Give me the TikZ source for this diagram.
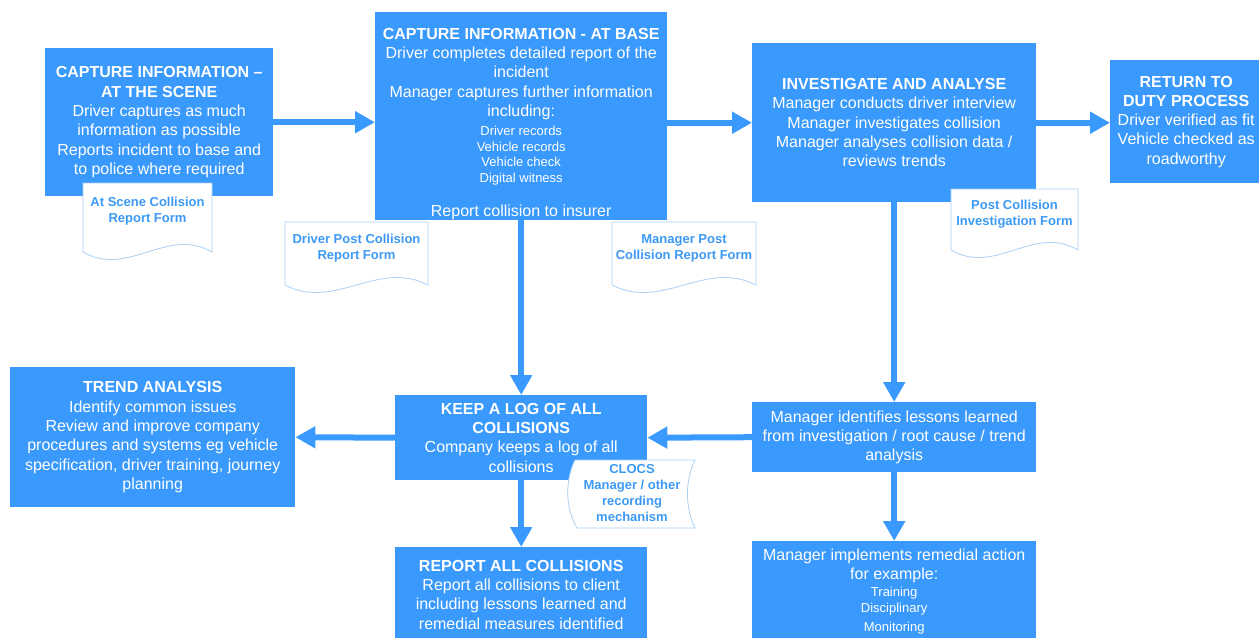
\documentclass[tikz,border=0pt]{standalone}
\usepackage{fontspec}
\setmainfont{Liberation Sans}
\usepackage{tikz}
\usetikzlibrary{arrows.meta,positioning,calc}
\definecolor{boxblue}{HTML}{3A99FD}
\definecolor{docline}{HTML}{A9D1F7}
\definecolor{doctext}{HTML}{3D9AF4}
\newcommand{\sm}[1]{{\fontsize{13}{15.5}\selectfont #1}}
% form sheet with a wavy lower edge: x, y, width, height
\newcommand{\formsheet}[4]{%
  \draw[sheet] (#1,#2) -- ({#1+#3},#2) -- ({#1+#3},{#2+#4-8})
    .. controls ({#1+0.65*#3},{#2+#4-34}) and ({#1+0.35*#3},{#2+#4+18}) .. (#1,{#2+#4-8}) -- cycle;}
\tikzset{
  box/.style={fill=boxblue, text=white, align=center, inner sep=0pt, anchor=north west,
    font=\fontsize{16}{19.3}\selectfont},
  sheet/.style={fill=white, draw=docline, line width=0.8pt},
  sheettxt/.style={text=doctext, align=center, inner sep=0pt, font=\bfseries\fontsize{13}{16}\selectfont},
  arr/.style={draw=boxblue, line width=6pt, -{Triangle[length=20pt,width=21pt]}}
}
\begin{document}
\begin{tikzpicture}[x=1pt, y=-1pt]
\useasboundingbox (0,0) rectangle (1259,638);
% process boxes
\node[box, minimum width=228, minimum height=148] (scene) at (45,48)
  {\textbf{CAPTURE INFORMATION --}\\\textbf{AT THE SCENE}\\Driver captures as much\\information as possible\\Reports incident to base and\\to police where required};
\node[box, minimum width=292, minimum height=208] (base) at (375,12)
  {\rule{0pt}{27pt}\textbf{CAPTURE INFORMATION - AT BASE}\\Driver completes detailed report of the\\incident\\Manager captures further information\\including:\\
   \sm{Driver records}\\[-3.8pt]\sm{Vehicle records}\\[-3.8pt]\sm{Vehicle check}\\[-3.8pt]\sm{Digital witness}\\[15pt]
   Report collision to insurer};
\node[box, minimum width=284, minimum height=159] (invest) at (752,43)
  {\textbf{INVESTIGATE AND ANALYSE}\\Manager conducts driver interview\\Manager investigates collision\\Manager analyses collision data /\\reviews trends};
\node[box, minimum width=152, minimum height=123] (ret) at (1110,60)
  {\textbf{RETURN TO}\\\textbf{DUTY PROCESS}\\Driver verified as fit\\Vehicle checked as\\roadworthy};
\node[box, minimum width=285, minimum height=140] (trend) at (10,367)
  {\textbf{TREND ANALYSIS}\\Identify common issues\\Review and improve company\\procedures and systems eg vehicle\\specification, driver training, journey\\planning};
\node[box, minimum width=252, minimum height=85] (log) at (395,395)
  {\textbf{KEEP A LOG OF ALL}\\\textbf{COLLISIONS}\\Company keeps a log of all\\collisions};
\node[box, minimum width=284, minimum height=70] (lessons) at (752,402)
  {Manager identifies lessons learned\\from investigation / root cause / trend\\analysis};
\node[box, minimum width=252, minimum height=91] (report) at (395,547)
  {\rule{0pt}{15pt}\textbf{REPORT ALL COLLISIONS}\\Report all collisions to client\\including lessons learned and\\remedial measures identified};
\node[box, minimum width=284, minimum height=97] (remedial) at (752,541)
  {\rule{0pt}{15.5pt}Manager implements remedial action\\for example:\\[-2.3pt]\sm{Training}\\[-3.3pt]\sm{Disciplinary}\\\sm{Monitoring}};

% forms
\formsheet{83}{183}{129}{77}
\node[sheettxt] (sceneform) at (147.5,211) {At Scene Collision\\Report Form};
\formsheet{285}{222}{143}{71}
\node[sheettxt] (driverform) at (356.5,248.5) {Driver Post Collision\\Report Form};
\formsheet{612}{222}{144}{71}
\node[sheettxt] (managerform) at (684,248.5) {Manager Post\\Collision Report Form};
\formsheet{951}{189}{127}{69}
\node[sheettxt] (investform) at (1014.5,214) {Post Collision\\Investigation Form};
\draw[sheet] (575,460) -- (695,460) .. controls (685,480) and (685,508) .. (695,528)
  -- (577,528) .. controls (565,508) and (565,480) .. cycle;
\node[sheettxt] (clocs) at (632,493) {CLOCS\\Manager / other\\recording\\mechanism};

% connectors
\draw[arr] (scene.east) -- (scene.east -| base.west);
\draw[arr] (invest.west -| base.east) -- (invest.west);
\draw[arr] (invest.east) -- (invest.east -| ret.west);
\foreach \s/\t in {base.south/log.north, invest.south/lessons.north, lessons.west/log.east,
  log.west/trend.east, log.south/report.north, lessons.south/remedial.north}
  \draw[arr] (\s) -- (\t);
\end{tikzpicture}
\end{document}
